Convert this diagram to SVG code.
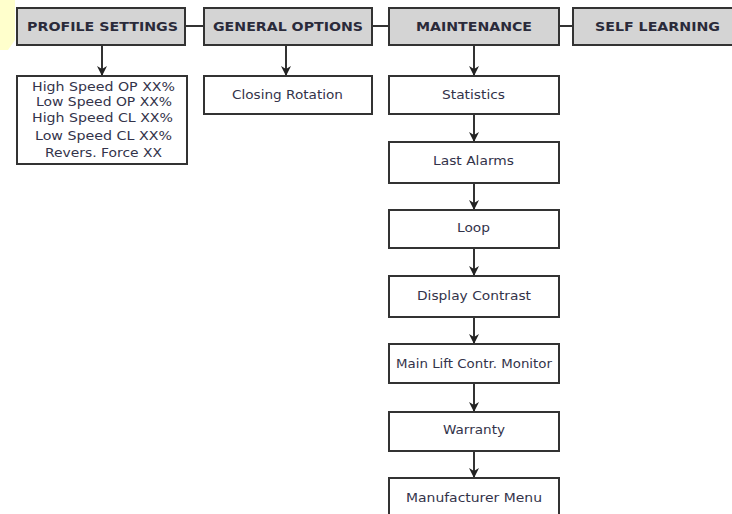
<svg xmlns="http://www.w3.org/2000/svg" width="732" height="514" viewBox="0 0 732 514">
<defs>
<style>
.hdr rect{fill:#d4d4d4;stroke:#333;stroke-width:2}
.box rect{fill:#fff;stroke:#333;stroke-width:2}
.ht{font-family:"DejaVu Sans",Verdana,sans-serif;font-weight:bold;font-size:12px;fill:#2a2a3a;text-anchor:middle}
.bt{font-family:"DejaVu Sans",Verdana,sans-serif;font-size:11.5px;fill:#33334a;text-anchor:middle}
.c line{stroke:#333;stroke-width:2}
</style>
<marker id="ar" viewBox="0 0 10 14" refX="10" refY="7" markerWidth="10" markerHeight="14" markerUnits="userSpaceOnUse" orient="auto">
<path d="M0,2 L10,7 L0,12 L3,7 Z" fill="#222"/>
</marker>
</defs>
<rect width="732" height="514" fill="#fff"/>
<polygon points="0,0 15,0 15,40 8,50 0,50" fill="#ffffcc"/>
<g class="c" id="connectors">
<line x1="185" y1="26" x2="204" y2="26"/>
<line x1="372" y1="26" x2="389" y2="26"/>
<line x1="559" y1="26" x2="573" y2="26"/>
<line x1="102" y1="45" x2="102" y2="76" marker-end="url(#ar)"/>
<line x1="286" y1="45" x2="286" y2="76" marker-end="url(#ar)"/>
<line x1="474" y1="45" x2="474" y2="76" marker-end="url(#ar)"/>
<line x1="474" y1="114" x2="474" y2="142" marker-end="url(#ar)"/>
<line x1="474" y1="183" x2="474" y2="210" marker-end="url(#ar)"/>
<line x1="474" y1="248" x2="474" y2="276" marker-end="url(#ar)"/>
<line x1="474" y1="317" x2="474" y2="344" marker-end="url(#ar)"/>
<line x1="474" y1="383" x2="474" y2="412" marker-end="url(#ar)"/>
<line x1="474" y1="451" x2="474" y2="478" marker-end="url(#ar)"/>
</g>
<g id="profile-settings" class="hdr"><rect x="17" y="8" width="168" height="37"/><text class="ht" x="102.5" y="31" textLength="151" lengthAdjust="spacingAndGlyphs">PROFILE SETTINGS</text></g>
<g id="general-options" class="hdr"><rect x="204" y="8" width="168" height="37"/><text class="ht" x="288" y="31" textLength="150" lengthAdjust="spacingAndGlyphs">GENERAL OPTIONS</text></g>
<g id="maintenance" class="hdr"><rect x="389" y="8" width="170" height="37"/><text class="ht" x="474" y="31" textLength="116" lengthAdjust="spacingAndGlyphs">MAINTENANCE</text></g>
<g id="self-learning" class="hdr"><rect x="573" y="8" width="170" height="37"/><text class="ht" x="657.5" y="31" textLength="125" lengthAdjust="spacingAndGlyphs">SELF LEARNING</text></g>
<g id="profile-list" class="box"><rect x="17" y="76" width="170" height="88"/>
<text class="bt" x="103.5" y="91" textLength="143" lengthAdjust="spacingAndGlyphs">High Speed OP XX%</text>
<text class="bt" x="104" y="106" textLength="136" lengthAdjust="spacingAndGlyphs">Low Speed OP XX%</text>
<text class="bt" x="102.5" y="122" textLength="141" lengthAdjust="spacingAndGlyphs">High Speed CL XX%</text>
<text class="bt" x="103.5" y="140" textLength="137" lengthAdjust="spacingAndGlyphs">Low Speed CL XX%</text>
<text class="bt" x="103.5" y="157" textLength="117" lengthAdjust="spacingAndGlyphs">Revers. Force XX</text>
</g>
<g id="closing-rotation" class="box"><rect x="204" y="76" width="168" height="38"/><text class="bt" x="287.5" y="99" textLength="111" lengthAdjust="spacingAndGlyphs">Closing Rotation</text></g>
<g id="statistics" class="box"><rect x="389" y="76" width="170" height="38"/><text class="bt" x="473.5" y="99" textLength="63" lengthAdjust="spacingAndGlyphs">Statistics</text></g>
<g id="last-alarms" class="box"><rect x="389" y="142" width="170" height="41"/><text class="bt" x="473.5" y="165" textLength="81" lengthAdjust="spacingAndGlyphs">Last Alarms</text></g>
<g id="loop" class="box"><rect x="389" y="210" width="170" height="38"/><text class="bt" x="473.5" y="232" textLength="33" lengthAdjust="spacingAndGlyphs">Loop</text></g>
<g id="display-contrast" class="box"><rect x="389" y="276" width="170" height="41"/><text class="bt" x="474" y="300" textLength="114" lengthAdjust="spacingAndGlyphs">Display Contrast</text></g>
<g id="main-lift" class="box"><rect x="389" y="344" width="170" height="39"/><text class="bt" x="474" y="368" textLength="156" lengthAdjust="spacingAndGlyphs">Main Lift Contr. Monitor</text></g>
<g id="warranty" class="box"><rect x="389" y="412" width="170" height="39"/><text class="bt" x="474" y="434" textLength="62" lengthAdjust="spacingAndGlyphs">Warranty</text></g>
<g id="manufacturer-menu" class="box"><rect x="389" y="478" width="170" height="45"/><text class="bt" x="474" y="502" textLength="136" lengthAdjust="spacingAndGlyphs">Manufacturer Menu</text></g>
</svg>
